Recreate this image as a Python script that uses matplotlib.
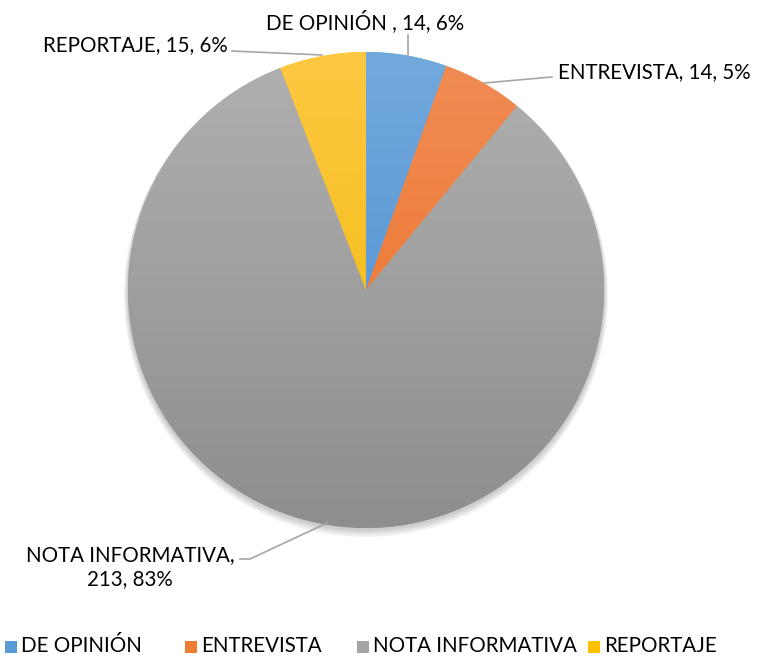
import numpy as np
import matplotlib
matplotlib.use("Agg")
import matplotlib.pyplot as plt
from matplotlib.colors import LinearSegmentedColormap
from matplotlib.patches import Circle, Rectangle

categories = ["DE OPINIÓN", "ENTREVISTA", "NOTA INFORMATIVA", "REPORTAJE"]
values = [14, 14, 213, 15]
percents = ["6%", "5%", "83%", "6%"]
label_texts = ["DE OPINIÓN , 14, 6%", "ENTREVISTA, 14, 5%",
               "NOTA INFORMATIVA,\n213, 83%", "REPORTAJE, 15, 6%"]

top_colors = ["#72A9DD", "#F08C55", "#B0B0B0", "#FFC843"]
bot_colors = ["#4A8BD2", "#EC6E1E", "#8E8E8E", "#EDB800"]
solid_colors = ["#5B9BD5", "#ED7D31", "#A5A5A5", "#FFC000"]

plt.rcParams['font.family'] = ['Lato', 'DejaVu Sans']

W, H = 759, 657
fig = plt.figure(figsize=(W / 100, H / 100), dpi=100)
ax = fig.add_axes([0, 0, 1, 1])

cx, cy, R = 366, H - 290, 238

# soft shadow
for i, a in enumerate([0.05, 0.05, 0.05, 0.05]):
    ax.add_patch(Circle((cx, cy - 2 - i), R + 1 + i, color='black', alpha=a, lw=0, zorder=0))

wedges, _ = ax.pie(values, startangle=90, counterclock=False, center=(cx, cy),
                   radius=R, colors=solid_colors,
                   wedgeprops=dict(linewidth=0, edgecolor='none'), frame=True)

grad = np.linspace(0, 1, 256).reshape(-1, 1)
for w, tc, bc in zip(wedges, top_colors, bot_colors):
    cmap = LinearSegmentedColormap.from_list("g", [tc, bc])
    im = ax.imshow(grad, cmap=cmap, extent=(cx - R, cx + R, cy - R, cy + R),
                   origin='upper', aspect='auto', zorder=2)
    im.set_clip_path(w)
ax.set_xlim(0, W)
ax.set_ylim(0, H)
ax.set_aspect('auto')
ax.axis('off')

lc = "#A6A6A6"
fs = 14.8
def py(y):
    return H - y

# DE OPINIÓN
ax.plot([408, 408], [py(35), py(56)], color=lc, lw=1.2, zorder=3)
ax.text(365, py(22), label_texts[0], ha='center', va='center', fontsize=fs, color='#000000')
# ENTREVISTA
ax.plot([484, 552], [py(83), py(77)], color=lc, lw=1.2, zorder=3)
ax.text(558, py(72), label_texts[1], ha='left', va='center', fontsize=fs, color='#000000')
# REPORTAJE
ax.plot([232, 322], [py(51), py(55)], color=lc, lw=1.2, zorder=3)
ax.text(228, py(45), label_texts[3], ha='right', va='center', fontsize=fs, color='#000000')
# NOTA INFORMATIVA
ax.plot([240, 250, 327], [py(559), py(559), py(523)], color=lc, lw=1.2, zorder=3)
ax.text(130, py(567), label_texts[2], ha='center', va='center', fontsize=fs,
        color='#000000', linespacing=1.3)

# legend
leg_x = [5, 185, 357, 588]
for x, c, name in zip(leg_x, solid_colors, categories):
    ax.add_patch(Rectangle((x, py(653)), 12, 12, color=c, lw=0))
    ax.text(x + 16, py(646), name, ha='left', va='center', fontsize=fs, color='#000000')

fig.savefig("out.png", dpi=100)
